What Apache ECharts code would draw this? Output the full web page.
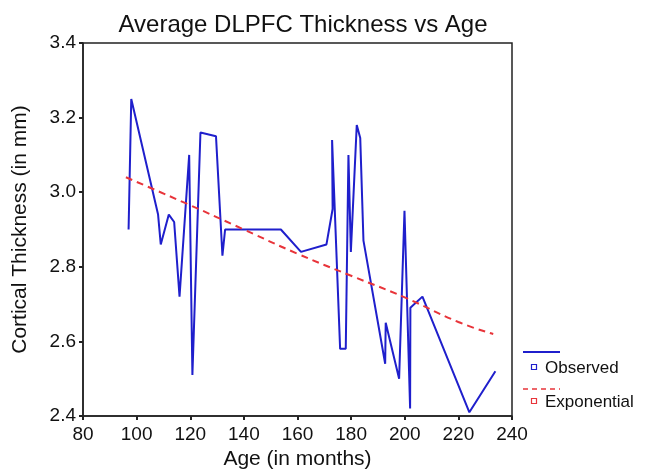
<!DOCTYPE html>
<html>
<head>
<meta charset="utf-8">
<script src="https://cdn.jsdelivr.net/npm/echarts@6/dist/echarts.min.js"></script>
<style>
html,body{margin:0;padding:0;background:#fff;}
#chart{width:649px;height:476px;}
</style>
</head>
<body>
<div id="chart"></div>
<script>
// Observed data (age in months, cortical thickness in mm)
const observedAge = [97, 98, 108, 109, 112, 114, 116, 119.6, 120.8, 123.8, 129.6, 132, 133, 153.8, 161.3, 170.8, 173.1, 172.9, 175.9, 178, 179, 179.9, 182.1, 183.4, 184.6, 192.7, 192.9, 197.9, 199.9, 202, 202.1, 206.6, 224.1, 233.8];
const observedThickness = [2.90, 3.25, 2.94, 2.86, 2.94, 2.92, 2.72, 3.10, 2.51, 3.16, 3.15, 2.83, 2.90, 2.90, 2.84, 2.86, 2.955, 3.14, 2.58, 2.58, 3.10, 2.84, 3.18, 3.145, 2.87, 2.54, 2.65, 2.50, 2.95, 2.42, 2.69, 2.72, 2.41, 2.52];
// Exponential fit curve
const fitAge = [96, 120, 140, 160, 180, 200, 220, 233];
const fitThickness = [3.04, 2.965, 2.90, 2.835, 2.776, 2.718, 2.652, 2.62];
// Axis ticks
const xTicks = [80, 100, 120, 140, 160, 180, 200, 220, 240];
const yTicks = [2.4, 2.6, 2.8, 3.0, 3.2, 3.4];

const FONT = '"Liberation Sans", Arial, sans-serif';
const blue = '#1f1fcc';
const red = '#e8343a';

const chart = echarts.init(document.getElementById('chart'), null, {renderer: 'canvas'});
const zip = (a, b) => a.map((v, i) => [v, b[i]]);

chart.setOption({
  animation: false,
  backgroundColor: '#ffffff',
  title: {
    text: 'Average DLPFC Thickness vs Age',
    left: 298, top: 8, textAlign: 'center',
    textStyle: {fontFamily: FONT, fontSize: 24, fontWeight: 'normal', color: '#111'}
  },
  grid: {left: 83, right: 137, top: 43, bottom: 60, show: true, borderColor: '#222', borderWidth: 1.5, backgroundColor: 'transparent'},
  xAxis: {
    type: 'value', min: xTicks[0], max: xTicks[xTicks.length - 1], interval: 20,
    name: 'Age (in months)', nameLocation: 'middle', nameGap: 33,
    nameTextStyle: {fontFamily: FONT, fontSize: 21, color: '#111'},
    axisLine: {show: true, lineStyle: {color: '#222', width: 1.5}},
    axisTick: {show: true, length: 4, lineStyle: {color: '#222', width: 2}},
    axisLabel: {fontFamily: FONT, fontSize: 19, color: '#111', margin: 9},
    splitLine: {show: false}
  },
  yAxis: {
    type: 'value', min: yTicks[0], max: yTicks[yTicks.length - 1], interval: 0.2,
    name: 'Cortical Thickness (in mm)', nameLocation: 'middle', nameGap: 52,
    nameTextStyle: {fontFamily: FONT, fontSize: 21, color: '#111'},
    axisLine: {show: true, lineStyle: {color: '#222', width: 1.5}},
    axisTick: {show: true, length: 4, lineStyle: {color: '#222', width: 2}},
    axisLabel: {fontFamily: FONT, fontSize: 19, color: '#111', margin: 7, formatter: v => v.toFixed(1)},
    splitLine: {show: false}
  },
  series: [
    {
      name: 'Observed', type: 'line', data: zip(observedAge, observedThickness),
      showSymbol: false, lineStyle: {color: blue, width: 2}, z: 3
    },
    {
      name: 'Exponential', type: 'line', data: zip(fitAge, fitThickness),
      showSymbol: false, smooth: true,
      lineStyle: {color: red, width: 2, type: [7, 5]}, z: 4
    }
  ],
  graphic: [
    {type: 'line', shape: {x1: 523, y1: 352, x2: 560, y2: 352}, style: {stroke: blue, lineWidth: 2}},
    {type: 'rect', shape: {x: 531.5, y: 364.5, width: 5, height: 5}, style: {fill: '#fff', stroke: blue, lineWidth: 1.2}},
    {type: 'text', left: 545, top: 360, style: {text: 'Observed', font: '17px ' + FONT, fill: '#111'}},
    {type: 'line', shape: {x1: 523, y1: 389, x2: 560, y2: 389}, style: {stroke: red, lineWidth: 1.5, lineDash: [5, 4]}},
    {type: 'rect', shape: {x: 531.5, y: 398.5, width: 5, height: 5}, style: {fill: '#fff', stroke: red, lineWidth: 1.2}},
    {type: 'text', left: 545, top: 394, style: {text: 'Exponential', font: '17px ' + FONT, fill: '#111'}}
  ]
});
</script>
</body>
</html>
